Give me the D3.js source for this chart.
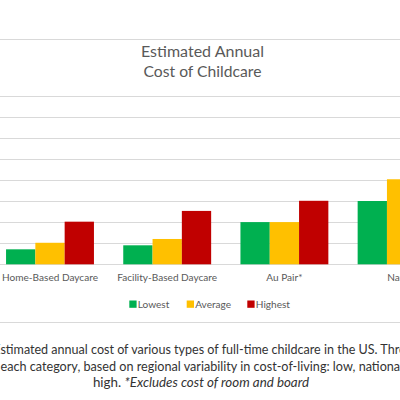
<!DOCTYPE html>
<html><head><meta charset="utf-8">
<script src="https://cdn.jsdelivr.net/npm/d3@7"></script>
<style>body{margin:0;background:#fff}svg{display:block}</style>
</head><body>
<svg id="c" width="400" height="400"></svg>
<script>
const categories = ["Home-Based Daycare", "Facility-Based Daycare", "Au Pair*", "Nanny"];
const seriesNames = ["Lowest", "Average", "Highest"];
const lowest  = [7100, 9000, 20000, 30000];
const average = [10200, 12000, 20000, 40300];
const highest = [20200, 25300, 30100, 60000];
const yTicks = [0, 10000, 20000, 30000, 40000, 50000, 60000, 70000, 80000];
const colors = ["#00B050", "#FFC000", "#C00000"];
const titleLines = ["Estimated Annual", "Cost of Childcare"];
const captionLines = [
  "Estimated annual cost of various types of full-time childcare in the US. Three values are given for",
  "each category, based on regional variability in cost-of-living: low, national average, and"
];

const svg = d3.select("#c");
const font = "Lato, 'Open Sans', sans-serif";

function fit(sel, w) {
  const n = sel.node();
  const fs = parseFloat(sel.attr("font-size"));
  const cur = n.getComputedTextLength();
  sel.attr("font-size", (fs * w / cur).toFixed(2));
}
function fitSize(str, w) {
  const t = svg.append("text").attr("font-family", font).attr("font-size", 14).text(str);
  const fs = 14 * w / t.node().getComputedTextLength();
  t.remove();
  return fs;
}

// chart borders
svg.append("line").attr("x1", 0).attr("x2", 400).attr("y1", 39.5).attr("y2", 39.5).attr("stroke", "#D9D9D9");
svg.append("line").attr("x1", 0).attr("x2", 400).attr("y1", 322.5).attr("y2", 322.5).attr("stroke", "#D9D9D9");

const y = d3.scaleLinear().domain([0, 80000]).range([264.3, 95.5]);
const x = d3.scaleBand().domain(categories).range([-8.6, 460.2]).paddingInner(0.25).paddingOuter(0.125);
const xs = d3.scaleBand().domain(seriesNames).range([0, x.bandwidth()]);

// gridlines
svg.append("g").selectAll("line").data(yTicks).join("line")
  .attr("x1", 0).attr("x2", 400)
  .attr("y1", d => Math.round(y(d)) + 0.5).attr("y2", d => Math.round(y(d)) + 0.5)
  .attr("stroke", "#D9D9D9").attr("stroke-width", 1);

// title
titleLines.forEach((t, i) => {
  const el = svg.append("text").attr("x", 202.5).attr("y", i === 0 ? 56.7 : 77.3)
    .attr("text-anchor", "middle").attr("font-family", font).attr("font-size", 14)
    .attr("fill", "#595959").text(t);
  fit(el, i === 0 ? 123 : 118);
});

// bars
const series = [lowest, average, highest];
const rows = [];
categories.forEach((c, ci) => series.forEach((s, si) => rows.push({c, s: seriesNames[si], v: s[ci], col: colors[si]})));
svg.append("g").selectAll("rect").data(rows).join("rect")
  .attr("x", d => x(d.c) + xs(d.s))
  .attr("width", xs.bandwidth())
  .attr("y", d => y(d.v))
  .attr("height", d => y(0) - y(d.v))
  .attr("fill", d => d.col);

// category labels
const lab = svg.append("g");
categories.forEach((c, i) => {
  const el = lab.append("text").attr("x", x(c) + x.bandwidth() / 2).attr("y", 281.2)
    .attr("text-anchor", "middle").attr("font-family", font).attr("font-size", 12)
    .attr("fill", "#595959").text(c);
  if (i === 0) { fit(el, 96); }
});
const catFs = lab.select("text").attr("font-size");
lab.selectAll("text").attr("font-size", catFs);

// legend
const legX = [129.3, 186.7, 247.3];
seriesNames.forEach((s, i) => {
  svg.append("rect").attr("x", legX[i]).attr("y", 300.5).attr("width", 7.3).attr("height", 7.3).attr("fill", colors[i]);
  svg.append("text").attr("x", legX[i] + 8.5).attr("y", 308.3)
    .attr("font-family", font).attr("font-size", catFs).attr("fill", "#595959").text(s);
});

// caption
const capColor = "#333333";
const fs1 = fitSize("stimated annual cost of various types of full-time childcare in the US. Thr", 399);
const fs2 = fitSize("each category, based on regional variability in cost-of-living: low, nationa", 400);
// line 1: its first letter falls just left of the visible area
const eW = (() => { const t = svg.append("text").attr("font-family", font).attr("font-size", fs1).text("E"); const w = t.node().getComputedTextLength(); t.remove(); return w; })();
svg.append("text").attr("x", 0.5 - eW).attr("y", 354).attr("font-family", font).attr("font-size", fs1).attr("fill", capColor)
  .text(captionLines[0]);
svg.append("text").attr("x", 0.5).attr("y", 370.5).attr("font-family", font).attr("font-size", fs2).attr("fill", capColor)
  .text(captionLines[1]);
const l3 = svg.append("text").attr("x", 201).attr("y", 386.5).attr("text-anchor", "middle")
  .attr("font-family", font).attr("font-size", fs2).attr("fill", capColor);
l3.append("tspan").text("high. ");
l3.append("tspan").attr("font-style", "italic").text("*Excludes cost of room and board");
fit(l3, 216);
</script>
</body></html>
